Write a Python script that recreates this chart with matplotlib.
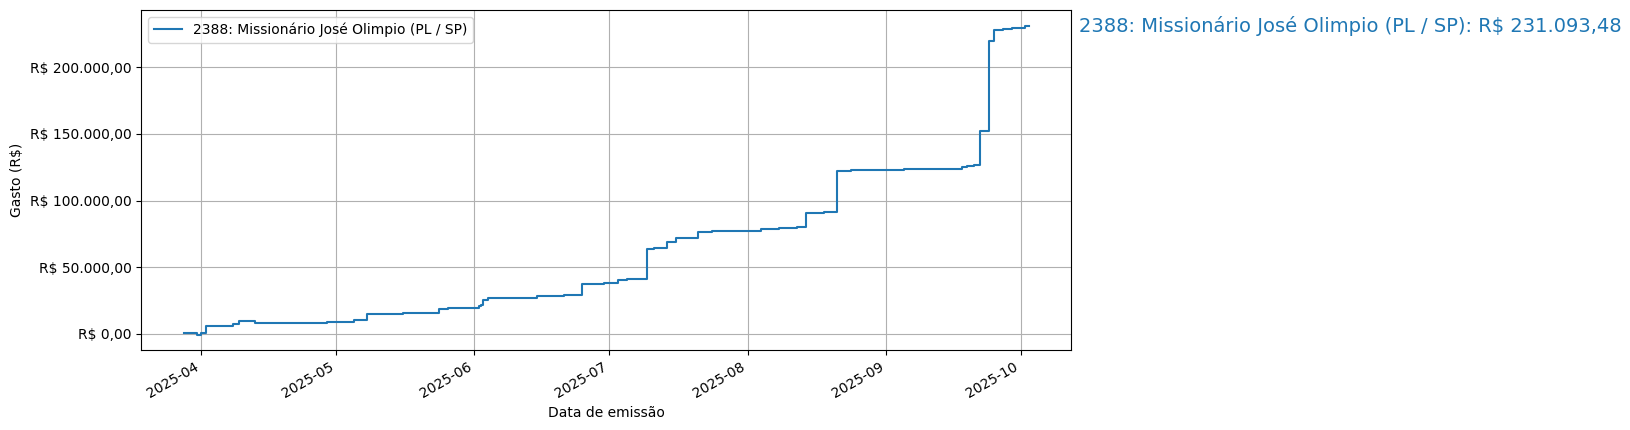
import pandas as pd
import matplotlib
matplotlib.use('Agg')
import matplotlib.pyplot as plt
import matplotlib.dates as mdates
from matplotlib.ticker import FuncFormatter

# cumulative spending (R$) by emission date
datas = [
    '2025-03-28', '2025-03-31', '2025-04-01', '2025-04-02', '2025-04-08',
    '2025-04-09 12:00', '2025-04-13', '2025-04-17', '2025-04-17 12:00', '2025-04-29',
    '2025-05-05', '2025-05-08', '2025-05-16', '2025-05-24', '2025-05-26',
    '2025-06-02', '2025-06-02 12:00', '2025-06-03', '2025-06-04', '2025-06-09',
    '2025-06-15', '2025-06-21', '2025-06-25', '2025-06-30', '2025-07-03',
    '2025-07-05', '2025-07-09 12:00', '2025-07-11', '2025-07-14', '2025-07-16',
    '2025-07-21', '2025-07-24', '2025-08-04', '2025-08-08', '2025-08-12',
    '2025-08-14', '2025-08-18', '2025-08-21', '2025-08-24', '2025-09-05',
    '2025-09-18', '2025-09-19', '2025-09-20 16:00', '2025-09-22', '2025-09-24',
    '2025-09-25', '2025-09-27', '2025-09-29', '2025-10-02', '2025-10-02 20:00',
]
gasto_acumulado = [
    800, -500, 800, 6300, 7500,
    10000, 8300, 7900, 8300, 9300,
    10300, 15300, 15800, 18800, 19800,
    20600, 21800, 25600, 26600, 27300,
    28100, 28900, 37100, 37900, 40600,
    41400, 63500, 64200, 69300, 71800,
    76800, 77500, 78400, 79200, 80000,
    90800, 91600, 122200, 122900, 123700,
    125000, 126000, 126700, 152300, 219400,
    227600, 228400, 229100, 231093.48, 231093.48,
]
nome = '2388: Missionário José Olimpio (PL / SP)'
total = 231093.48

df = pd.DataFrame({'data': pd.to_datetime(datas, format='mixed'), 'gasto': gasto_acumulado})


def brl(v):
    s = f'{v:,.2f}'
    return 'R$ ' + s.replace(',', '_').replace('.', ',').replace('_', '.')


fig, ax = plt.subplots(figsize=(16.31, 4.30), dpi=100)
ax.step(df['data'], df['gasto'], where='post', label=nome)

ax.yaxis.set_major_formatter(FuncFormatter(lambda v, p: brl(v)))
ax.xaxis.set_major_locator(mdates.MonthLocator())
ax.xaxis.set_major_formatter(mdates.DateFormatter('%Y-%m'))

ax.annotate(f'{nome}: {brl(total)}', xy=(1.008, total),
            xycoords=('axes fraction', 'data'), va='center', ha='left',
            fontsize=14, color='C0', annotation_clip=False)

ax.set_xlabel('Data de emissão')
ax.set_ylabel('Gasto (R$)')
ax.legend(loc='upper left')
ax.grid(True)
fig.autofmt_xdate()
fig.subplots_adjust(left=0.0866, right=0.6567, top=0.976, bottom=0.186)
fig.savefig('out.png', dpi=100)
